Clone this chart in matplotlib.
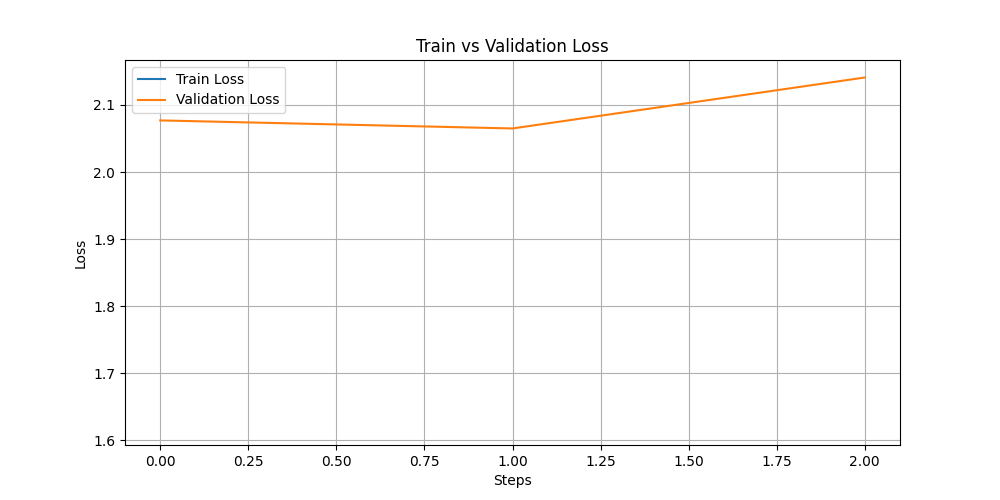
import matplotlib
matplotlib.use("Agg")
import matplotlib.pyplot as plt

# train loss logged once only (single point, so no visible line)
train_steps = [0]
train_loss = [1.619]

val_steps = [0, 1, 2]
val_loss = [2.077, 2.065, 2.141]

plt.figure(figsize=(10, 5))
plt.plot(train_steps, train_loss, label='Train Loss')
plt.plot(val_steps, val_loss, label='Validation Loss')
plt.xlabel('Steps')
plt.ylabel('Loss')
plt.title('Train vs Validation Loss')
plt.legend(loc='upper left')
plt.grid(True)
plt.savefig('out.png', dpi=100)
plt.close()
